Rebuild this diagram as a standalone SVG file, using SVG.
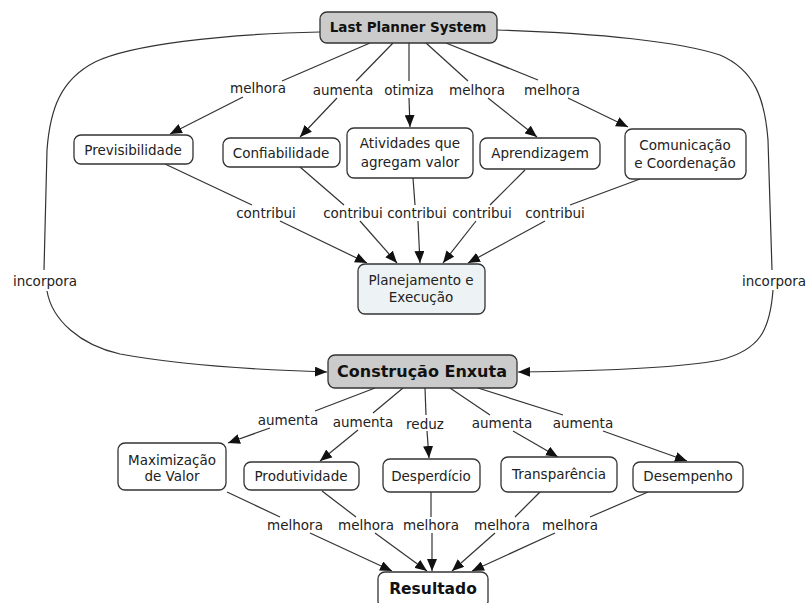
<svg xmlns="http://www.w3.org/2000/svg" width="806" height="603" viewBox="0 0 806 603">
<style>
.n{fill:#fff;stroke:#333;stroke-width:1.3}
.g{fill:#cbcbcb}
.b{fill:#edf3f5}
text{font-family:"DejaVu Sans",Verdana,sans-serif;font-size:13.5px;fill:#222;text-anchor:middle}
.bold{font-weight:bold;fill:#111}
.e{fill:none;stroke:#333;stroke-width:1.2}
</style>
<defs>
<marker id="a" markerUnits="userSpaceOnUse" markerWidth="12" markerHeight="10" viewBox="0 0 12 10" refX="12" refY="5" orient="auto">
<path d="M0,0 L12,5 L0,10 z" fill="#111"/>
</marker>
</defs>
<rect width="806" height="603" fill="#fff"/>
<g id="connectors">
<!-- LPS outgoing -->
<line class="e" x1="370" y1="43" x2="282" y2="81"/>
<line class="e" x1="243" y1="97" x2="170" y2="134" marker-end="url(#a)"/>
<line class="e" x1="393" y1="43" x2="356" y2="81"/>
<line class="e" x1="337" y1="98" x2="300" y2="137" marker-end="url(#a)"/>
<line class="e" x1="409" y1="43" x2="409" y2="81"/>
<line class="e" x1="409" y1="98" x2="410" y2="127" marker-end="url(#a)"/>
<line class="e" x1="426" y1="43" x2="468" y2="81"/>
<line class="e" x1="488" y1="98" x2="537" y2="137" marker-end="url(#a)"/>
<line class="e" x1="446" y1="43" x2="538" y2="80"/>
<line class="e" x1="568" y1="98" x2="628" y2="127" marker-end="url(#a)"/>
<!-- contribui -->
<line class="e" x1="165" y1="164" x2="252" y2="205"/>
<line class="e" x1="280" y1="221" x2="367" y2="263" marker-end="url(#a)"/>
<line class="e" x1="300" y1="167" x2="344" y2="205"/>
<line class="e" x1="360" y1="221" x2="397" y2="263" marker-end="url(#a)"/>
<line class="e" x1="413" y1="178" x2="415" y2="205"/>
<line class="e" x1="418" y1="221" x2="420" y2="263" marker-end="url(#a)"/>
<line class="e" x1="525" y1="170" x2="490" y2="205"/>
<line class="e" x1="476" y1="221" x2="443" y2="263" marker-end="url(#a)"/>
<line class="e" x1="640" y1="179" x2="570" y2="205"/>
<line class="e" x1="545" y1="221" x2="468" y2="263" marker-end="url(#a)"/>
<!-- incorpora -->
<path class="e" d="M320,32 C220,34 130,45 95,62 C60,80 50,110 47,150 L44,270"/>
<path class="e" d="M47,291 C52,320 80,345 120,354 C180,365 260,370 327,372" marker-end="url(#a)"/>
<path class="e" d="M497,30 C600,33 680,42 720,55 C755,70 765,100 768,140 L772,270"/>
<path class="e" d="M773,290 C770,330 760,350 720,360 C680,368 600,371 518,372" marker-end="url(#a)"/>
<!-- CE outgoing -->
<line class="e" x1="375" y1="388" x2="315" y2="411"/>
<line class="e" x1="270" y1="428" x2="228" y2="443" marker-end="url(#a)"/>
<line class="e" x1="403" y1="388" x2="373" y2="413"/>
<line class="e" x1="358" y1="430" x2="320" y2="461" marker-end="url(#a)"/>
<line class="e" x1="425" y1="388" x2="426" y2="415"/>
<line class="e" x1="427" y1="431" x2="429" y2="458" marker-end="url(#a)"/>
<line class="e" x1="450" y1="388" x2="490" y2="415"/>
<line class="e" x1="513" y1="431" x2="558" y2="457" marker-end="url(#a)"/>
<line class="e" x1="478" y1="388" x2="563" y2="415"/>
<line class="e" x1="603" y1="431" x2="687" y2="461" marker-end="url(#a)"/>
<!-- melhora to Resultado -->
<line class="e" x1="227" y1="492" x2="280" y2="517"/>
<line class="e" x1="310" y1="533" x2="392" y2="571" marker-end="url(#a)"/>
<line class="e" x1="322" y1="491" x2="356" y2="517"/>
<line class="e" x1="375" y1="533" x2="427" y2="571" marker-end="url(#a)"/>
<line class="e" x1="431" y1="492" x2="431" y2="517"/>
<line class="e" x1="432" y1="533" x2="432" y2="571" marker-end="url(#a)"/>
<line class="e" x1="540" y1="492" x2="515" y2="517"/>
<line class="e" x1="495" y1="533" x2="452" y2="571" marker-end="url(#a)"/>
<line class="e" x1="648" y1="492" x2="590" y2="517"/>
<line class="e" x1="555" y1="533" x2="472" y2="571" marker-end="url(#a)"/>
</g>
<g id="labels">
<text x="258" y="93">melhora</text>
<text x="343" y="95">aumenta</text>
<text x="409" y="95">otimiza</text>
<text x="477" y="95">melhora</text>
<text x="552" y="95">melhora</text>
<text x="266" y="218">contribui</text>
<text x="353" y="218">contribui</text>
<text x="417" y="218">contribui</text>
<text x="482" y="218">contribui</text>
<text x="555" y="218">contribui</text>
<text x="45" y="286">incorpora</text>
<text x="774" y="286">incorpora</text>
<text x="288" y="425">aumenta</text>
<text x="363" y="427">aumenta</text>
<text x="425" y="429">reduz</text>
<text x="502" y="428">aumenta</text>
<text x="583" y="428">aumenta</text>
<text x="295" y="530">melhora</text>
<text x="366" y="530">melhora</text>
<text x="431" y="530">melhora</text>
<text x="502" y="530">melhora</text>
<text x="570" y="530">melhora</text>
</g>
<g id="lps"><rect class="n g" x="320" y="12" width="177" height="31" rx="7"/><text class="bold" x="408" y="32">Last Planner System</text></g>
<g id="previsibilidade"><rect class="n" x="74" y="135" width="119" height="29" rx="7"/><text x="133" y="155">Previsibilidade</text></g>
<g id="confiabilidade"><rect class="n" x="223" y="138" width="117" height="29" rx="7"/><text x="281" y="158">Confiabilidade</text></g>
<g id="atividades"><rect class="n" x="347" y="128" width="126" height="50" rx="7"/><text x="410" y="148">Atividades que</text><text x="410" y="167">agregam valor</text></g>
<g id="aprendizagem"><rect class="n" x="480" y="138" width="120" height="31" rx="7"/><text x="540" y="158">Aprendizagem</text></g>
<g id="comunicacao"><rect class="n" x="625" y="129" width="121" height="50" rx="7"/><text x="685" y="150">Comunicação</text><text x="685" y="168">e Coordenação</text></g>
<g id="planejamento"><rect class="n b" x="358" y="264" width="127" height="50" rx="7"/><text x="421" y="285">Planejamento e</text><text x="421" y="302">Execução</text></g>
<g id="construcao"><rect class="n g" x="328" y="355" width="189" height="33" rx="7"/><text class="bold" x="422" y="377" style="font-size:16px">Construção Enxuta</text></g>
<g id="maximizacao"><rect class="n" x="118" y="443" width="108" height="47" rx="7"/><text x="172" y="465">Maximização</text><text x="172" y="481">de Valor</text></g>
<g id="produtividade"><rect class="n" x="244" y="462" width="115" height="28" rx="7"/><text x="301" y="481">Produtividade</text></g>
<g id="desperdicio"><rect class="n" x="383" y="459" width="97" height="33" rx="7"/><text x="431" y="481">Desperdício</text></g>
<g id="transparencia"><rect class="n" x="501" y="457" width="116" height="35" rx="7"/><text x="559" y="479">Transparência</text></g>
<g id="desempenho"><rect class="n" x="633" y="462" width="110" height="30" rx="7"/><text x="688" y="481">Desempenho</text></g>
<g id="resultado"><rect class="n" x="378" y="572" width="110" height="36" rx="7"/><text class="bold" x="433" y="594" style="font-size:15.5px">Resultado</text></g>
</svg>
